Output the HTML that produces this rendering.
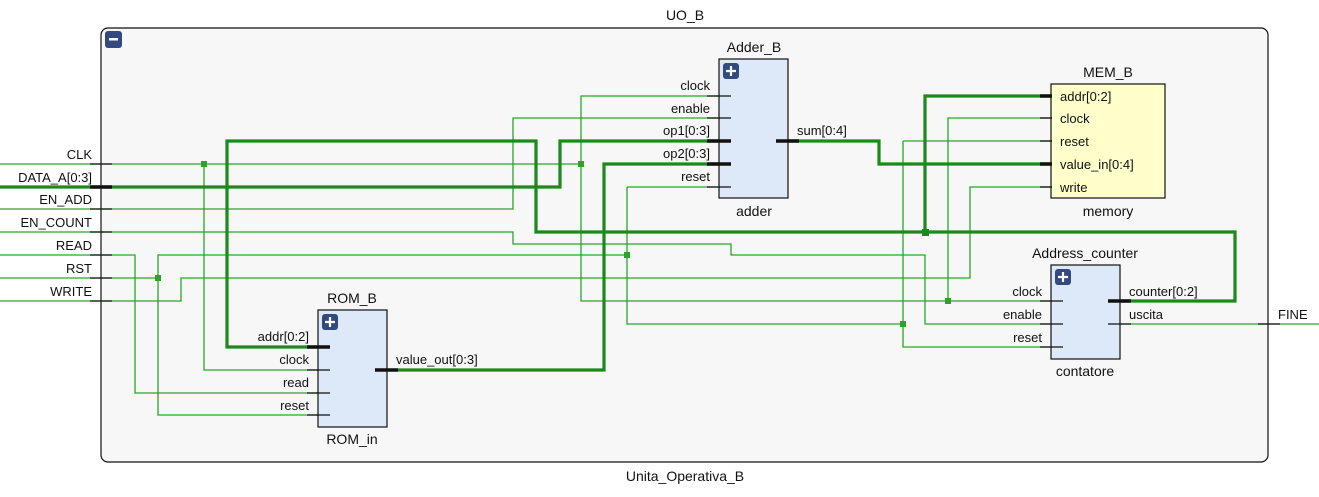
<!DOCTYPE html>
<html><head><style>html,body{margin:0;padding:0;background:#fff}</style></head><body>
<svg width="1319" height="492" viewBox="0 0 1319 492" xmlns="http://www.w3.org/2000/svg" font-family="Liberation Sans, sans-serif" font-size="13" fill="#111">
<rect x="0" y="0" width="1319" height="492" fill="#fff"/>
<rect x="101" y="28" width="1167" height="434" rx="7" fill="#f7f7f7" stroke="#111" stroke-width="1.2"/>
<rect x="105" y="31" width="17" height="17" rx="3" fill="#34497e"/><rect x="109" y="38" width="9" height="2.5" fill="#fff"/>
<text x="685" y="20" text-anchor="middle" font-size="14">UO_B</text>
<text x="685" y="481" text-anchor="middle" font-size="14">Unita_Operativa_B</text>

<g stroke="#2aa52a" stroke-width="1.3" fill="none">
<path d="M0,164 H581 V96 H719"/><path d="M204,164 V370 H318"/><path d="M581,164 V301 H1051"/><path d="M948,301 V118 H1051"/>
<path d="M0,209 H513 V118 H719"/>
<path d="M0,232 H513 V244 H731 V255 H925 V324 H1051"/>
<path d="M0,255 H135 V393 H318"/>
<path d="M0,278 H158 V415 H318"/><path d="M158,278 V255 H627"/><path d="M627,187 H719"/><path d="M627,187 V324 H903"/><path d="M903,141 H1051"/><path d="M903,141 V347 H1051"/>
<path d="M0,301 H181 V278 H970 V187 H1051"/>
<path d="M1120,324 H1319"/>
</g>
<g stroke="#1a8a1a" stroke-width="3.2" fill="none">
<path d="M0,187 H560 V141 H719"/>
<path d="M1120,301 H1235 V232 H536 V141 H227 V347 H318"/>
<path d="M925,232 V96 H1051"/>
<path d="M398,370 H604 V164 H719"/>
<path d="M787,141 H879 V164 H1051"/>
</g>
<g fill="#2aa52a">
<rect x="201" y="161" width="6" height="6"/><rect x="578" y="161" width="6" height="6"/><rect x="155" y="275" width="6" height="6"/>
<rect x="624" y="252" width="6" height="6"/><rect x="945" y="298" width="6" height="6"/><rect x="900" y="321" width="6" height="6"/>
<rect x="922" y="229" width="7" height="7" fill="#1a8a1a"/>
</g>

<g stroke="#111" stroke-width="1.3">
<line x1="90" y1="164" x2="112" y2="164"/><line x1="90" y1="187" x2="112" y2="187" stroke-width="3.5"/>
<line x1="90" y1="209" x2="112" y2="209"/><line x1="90" y1="232" x2="112" y2="232"/><line x1="90" y1="255" x2="112" y2="255"/>
<line x1="90" y1="278" x2="112" y2="278"/><line x1="90" y1="301" x2="112" y2="301"/><line x1="1258" y1="324" x2="1280" y2="324"/>
</g>
<g text-anchor="end">
<text x="92" y="159">CLK</text><text x="92" y="182">DATA_A[0:3]</text><text x="92" y="204">EN_ADD</text>
<text x="92" y="227">EN_COUNT</text><text x="92" y="250">READ</text><text x="92" y="273">RST</text><text x="92" y="296">WRITE</text>
</g>
<text x="1278" y="319">FINE</text>

<rect x="719" y="59" width="69" height="139" fill="#dde8f8" stroke="#111" stroke-width="1.2"/>
<rect x="723" y="63" width="16" height="16" rx="3" fill="#34497e"/><path d="M731,66 V76 M726,71 H736" stroke="#fff" stroke-width="2.2"/>
<text x="754" y="52" text-anchor="middle" font-size="14">Adder_B</text><text x="754" y="216" text-anchor="middle" font-size="14">adder</text>
<g stroke="#111" stroke-width="1.3"><line x1="707" y1="96" x2="731" y2="96"/><line x1="707" y1="118" x2="731" y2="118"/><line x1="707" y1="141" x2="731" y2="141" stroke-width="3.5"/><line x1="707" y1="164" x2="731" y2="164" stroke-width="3.5"/><line x1="707" y1="187" x2="731" y2="187"/><line x1="776" y1="141" x2="799" y2="141" stroke-width="3.5"/></g>
<g text-anchor="end"><text x="710" y="90">clock</text><text x="710" y="113">enable</text><text x="710" y="135">op1[0:3]</text><text x="710" y="158">op2[0:3]</text><text x="710" y="181">reset</text></g>
<text x="797" y="135">sum[0:4]</text>

<rect x="1051" y="84" width="114" height="114" fill="#ffffcc" stroke="#111" stroke-width="1.2"/>
<text x="1108" y="77" text-anchor="middle" font-size="14">MEM_B</text><text x="1108" y="216" text-anchor="middle" font-size="14">memory</text>
<g stroke="#111" stroke-width="1.3"><line x1="1040" y1="96" x2="1052" y2="96" stroke-width="3.5"/><line x1="1040" y1="118" x2="1052" y2="118"/><line x1="1040" y1="141" x2="1052" y2="141"/><line x1="1040" y1="164" x2="1052" y2="164" stroke-width="3.5"/><line x1="1040" y1="187" x2="1052" y2="187"/></g>
<text x="1060" y="101">addr[0:2]</text><text x="1060" y="123">clock</text><text x="1060" y="146">reset</text><text x="1060" y="169">value_in[0:4]</text><text x="1060" y="192">write</text>

<rect x="1051" y="265" width="69" height="94" fill="#dde8f8" stroke="#111" stroke-width="1.2"/>
<rect x="1055" y="269" width="16" height="16" rx="3" fill="#34497e"/><path d="M1063,272 V282 M1058,277 H1068" stroke="#fff" stroke-width="2.2"/>
<text x="1085" y="258" text-anchor="middle" font-size="14">Address_counter</text><text x="1085" y="376" text-anchor="middle" font-size="14">contatore</text>
<g stroke="#111" stroke-width="1.3"><line x1="1040" y1="301" x2="1063" y2="301"/><line x1="1040" y1="324" x2="1063" y2="324"/><line x1="1040" y1="347" x2="1063" y2="347"/><line x1="1108" y1="301" x2="1131" y2="301" stroke-width="3.5"/><line x1="1108" y1="324" x2="1131" y2="324"/></g>
<g text-anchor="end"><text x="1042" y="296">clock</text><text x="1042" y="319">enable</text><text x="1042" y="342">reset</text></g>
<text x="1129" y="296">counter[0:2]</text><text x="1129" y="319">uscita</text>

<rect x="318" y="310" width="69" height="117" fill="#dde8f8" stroke="#111" stroke-width="1.2"/>
<rect x="322" y="314" width="16" height="16" rx="3" fill="#34497e"/><path d="M330,317 V327 M325,322 H335" stroke="#fff" stroke-width="2.2"/>
<text x="352" y="303" text-anchor="middle" font-size="14">ROM_B</text><text x="352" y="444" text-anchor="middle" font-size="14">ROM_in</text>
<g stroke="#111" stroke-width="1.3"><line x1="307" y1="347" x2="330" y2="347" stroke-width="3.5"/><line x1="307" y1="370" x2="330" y2="370"/><line x1="307" y1="393" x2="330" y2="393"/><line x1="307" y1="415" x2="330" y2="415"/><line x1="375" y1="370" x2="398" y2="370" stroke-width="3.5"/></g>
<g text-anchor="end"><text x="309" y="341">addr[0:2]</text><text x="309" y="364">clock</text><text x="309" y="387">read</text><text x="309" y="410">reset</text></g>
<text x="396" y="364">value_out[0:3]</text>
</svg>
</body></html>
